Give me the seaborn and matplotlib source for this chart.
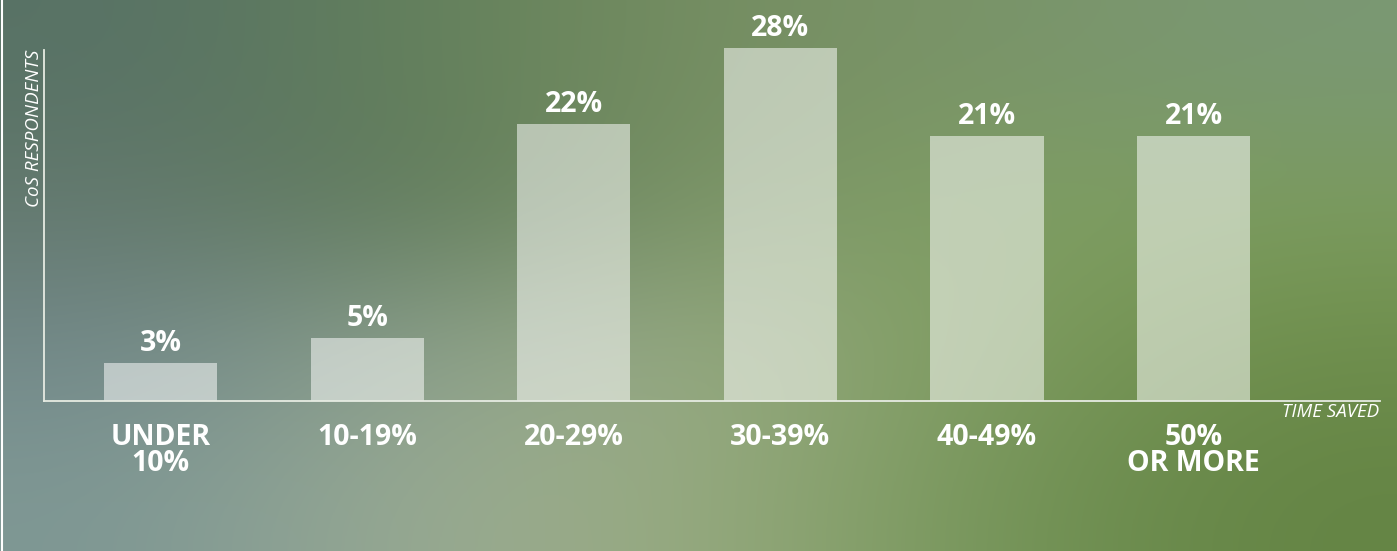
import numpy as np
import pandas as pd
import matplotlib
matplotlib.use("Agg")
import matplotlib.pyplot as plt
from matplotlib.colors import to_rgb
from matplotlib.lines import Line2D
import seaborn as sns

# --- Data ---
categories = ["UNDER\n10%", "10-19%", "20-29%", "30-39%", "40-49%", "50%\nOR MORE"]
shares = [3, 5, 22, 28, 21, 21]
value_labels = ["3%", "5%", "22%", "28%", "21%", "21%"]

# --- Background gradient colours (rows top -> bottom) ---
BG_TOP = ["#587266", "#62805a", "#768e62", "#7a9468", "#7a9874"]
BG_MID = ["#64796f", "#5e7a58", "#7c9468", "#80a064", "#7c9c5e"]
BG_LOW = ["#72888a", "#8ca08c", "#9aac86", "#7e9c60", "#6e8e4c"]
BG_BOT = ["#7e9794", "#9aab94", "#98ab80", "#76965a", "#648444"]

df = pd.DataFrame({"cat": categories, "share": shares})

sns.set_theme(style="white")
plt.rcParams["font.family"] = ["Open Sans", "DejaVu Sans"]

fig = plt.figure(figsize=(13.97, 5.51), dpi=100)

# background image
ax_bg = fig.add_axes([0, 0, 1, 1], zorder=-2)
grid = np.array([[to_rgb(c) for c in row] for row in [BG_TOP, BG_MID, BG_LOW, BG_BOT]])
ax_bg.imshow(grid, aspect="auto", interpolation="bicubic", extent=[0, 1, 0, 1])
ax_bg.set_axis_off()

# thin border line on the left edge
fig.add_artist(Line2D([2 / 1397, 2 / 1397], [0, 1], color="white", lw=1.5,
                      transform=fig.transFigure))

ax = fig.add_axes([44 / 1397, 1 - 401 / 551, 1336 / 1397, 351 / 551])
ax.patch.set_alpha(0)

sns.barplot(data=df, x="cat", y="share", color="white", alpha=0.52,
            width=0.547, saturation=1, ax=ax)
for bar in ax.patches:
    bar.set_clip_on(False)
    bar.set_linewidth(0)

for i, (v, lab) in enumerate(zip(shares, value_labels)):
    ax.annotate(lab, (i, v), xytext=(0, 12 * 0.72), textcoords="offset points",
                ha="center", va="baseline", color="white",
                fontsize=20.5, fontweight="bold", annotation_clip=False)

ax.set_xlim(-0.564, 5.902)
ax.set_ylim(0, 27.85)
ax.set_xlabel("")
ax.set_ylabel("")
ax.set_yticks([])
ax.tick_params(axis="x", length=0, pad=16)
for t in ax.get_xticklabels():
    t.set_color("white")
    t.set_fontsize(20.5)
    t.set_fontweight("bold")
    t.set_linespacing(0.85)

for side in ["top", "right"]:
    ax.spines[side].set_visible(False)
for side in ["left", "bottom"]:
    ax.spines[side].set_color("#e6ebe2")
    ax.spines[side].set_linewidth(1.3)

fig.text(34 / 1397, 1 - 50 / 551, "CoS RESPONDENTS", rotation=90, ha="center",
         va="top", color="white", fontsize=13.5, fontstyle="italic")
fig.text(1379 / 1397, 1 - 403 / 551, "TIME SAVED", ha="right", va="top",
         color="white", fontsize=13.5, fontstyle="italic")

fig.savefig("out.png", dpi=100)
